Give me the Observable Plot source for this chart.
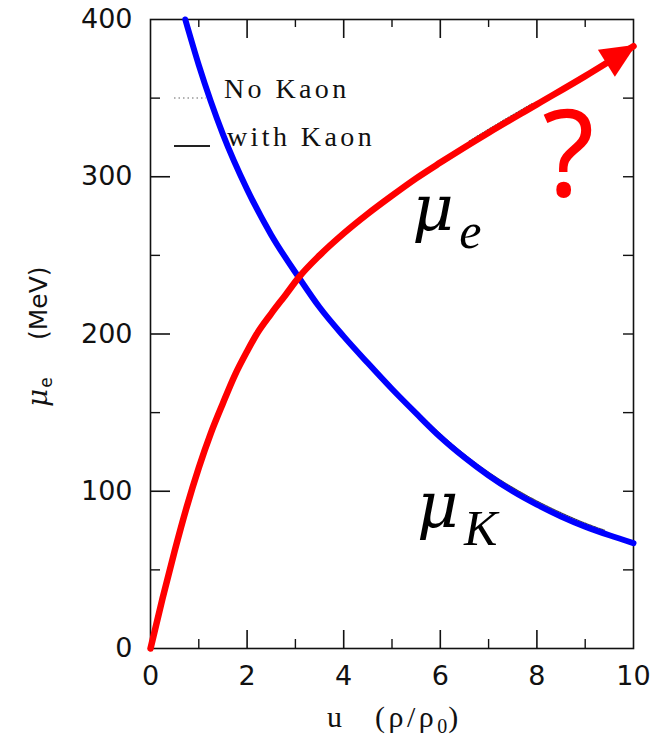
<!DOCTYPE html>
<html>
<head>
<meta charset="utf-8">
<script src="https://cdn.jsdelivr.net/npm/d3@7"></script>
<script src="https://cdn.jsdelivr.net/npm/@observablehq/plot@0.6"></script>
<style>
  html, body { margin: 0; padding: 0; background: #fff; }
</style>
</head>
<body>
<div id="chart"></div>
<script>
// Electron chemical potential μe (with kaons) against density u = ρ/ρ0
const densityE = [0, 0.25, 0.5, 0.75, 1.0, 1.25, 1.5, 1.75, 2.0, 2.2, 2.5, 2.8, 3.07, 3.5, 4.0, 4.5, 5.0, 5.5, 6.0, 7.0, 8.0, 9.0, 10];
const muE      = [0, 32, 62, 90, 115, 137, 156, 174, 189, 200, 213, 225, 236, 250, 264, 276.5, 288, 299, 309, 328, 346, 364, 383];

// Kaon chemical potential μK
const densityK = [0.72, 1.0, 1.5, 2.0, 2.5, 3.07, 3.5, 4.0, 4.5, 5.0, 5.5, 6.0, 6.5, 7.0, 7.5, 8.0, 8.5, 9.0, 9.5, 10];
const muK      = [400, 371, 327, 292, 263, 236, 217, 198.5, 181.5, 165, 149.5, 134.5, 121.5, 110, 100, 91.5, 84, 77.5, 72, 67];

// "No Kaon" curves, lying almost on top of the kaon-case curves
const noKaonDensityK = [5.6, 6.2, 6.9, 7.6, 8.3, 9.0, 9.4];
const noKaonMuK      = [148.2, 131, 114.2, 100.5, 89.2, 79.7, 75.2];
const noKaonDensityE = [6.6, 7.2, 7.9];
const noKaonMuE      = [322.7, 333.9, 346.5];

// Axis ticks
const xLabels = [0, 2, 4, 6, 8, 10];
const xMajor = [2, 4, 6, 8];
const xMinor = [1, 3, 5, 7, 9];
const yLabels = [0, 100, 200, 300, 400];
const yMajor = [100, 200, 300];
const yMinor = [50, 150, 250, 350];

// Legend entries
const legendNames = ["No Kaon", "with Kaon"];
const legendDash = ["1.5 3", null];

// Curve annotations: symbol, subscript, anchor point (u, MeV)
const noteBase = ["μ", "μ"];
const noteSub = ["e", "K"];
const noteU = [5.42, 5.52];
const noteMu = [266, 77];

const toRows = (xs, ys) => xs.map((u, i) => ({u, mu: ys[i]}));
const electron = toRows(densityE, muE);
const kaon = toRows(densityK, muK);
const noKaonK = toRows(noKaonDensityK, noKaonMuK);
const noKaonE = toRows(noKaonDensityE, noKaonMuE);
const notes = noteBase.map((b, i) => ({base: b, sub: noteSub[i], u: noteU[i], mu: noteMu[i]}));

const W = 664, H = 738;
const M = {top: 19, right: 31, bottom: 90, left: 150};
const frameW = W - M.left - M.right;
const frameH = H - M.top - M.bottom;

const tickFont = "DejaVu Sans";
const serif = "Liberation Serif";

// Legend: sample strokes and labels in the upper-left of the frame
function legend(index, scales, values, dims) {
  const g = d3.create("svg:g").attr("text-anchor", "start");
  const x0 = dims.marginLeft, y0 = dims.marginTop;
  legendNames.forEach((name, i) => {
    const base = y0 + 79 + i * 48;
    g.append("line")
      .attr("x1", x0 + 24).attr("x2", x0 + 56 + i * 4)
      .attr("y1", base).attr("y2", base)
      .attr("stroke", i === 0 ? "#666" : "#222")
      .attr("stroke-width", i === 0 ? 1.2 : 1.8)
      .attr("stroke-dasharray", legendDash[i]);
    g.append("text")
      .attr("x", x0 + 74 + i * 3).attr("y", base)
      .attr("font-family", serif)
      .attr("font-size", 28)
      .attr("letter-spacing", 3.4)
      .attr("fill", "#111")
      .text(name);
  });
  return g.node();
}

// Axis titles: u (ρ/ρ0) below, μe (MeV) rotated on the left
function axisTitles(index, scales, values, dims) {
  const g = d3.create("svg:g").attr("text-anchor", "start").attr("fill", "#111");
  const bottom = dims.height - dims.marginBottom;
  const left = dims.marginLeft;
  g.append("text")
    .attr("x", left + 177).attr("y", bottom + 79)
    .attr("font-family", serif).attr("font-size", 30)
    .text("u");
  const t = g.append("text")
    .attr("x", left + 225).attr("y", bottom + 79)
    .attr("font-family", serif).attr("font-size", 30)
    .attr("letter-spacing", 3.5);
  t.append("tspan").text("(ρ/ρ");
  t.append("tspan").attr("font-size", 20).attr("dy", 6).attr("letter-spacing", 1).text("0");
  t.append("tspan").attr("dy", -6).text(")");

  const yt = g.append("g")
    .attr("transform", `translate(${left - 103},${(dims.marginTop + bottom) / 2 + 73.5}) rotate(-90)`);
  const mu = yt.append("text").attr("x", 0).attr("y", 0);
  mu.append("tspan").attr("font-family", "DejaVu Serif").attr("font-style", "italic").attr("font-size", 28).text("μ");
  mu.append("tspan").attr("font-family", tickFont).attr("font-size", 17).attr("dx", 1).attr("dy", 5).text("e");
  yt.append("text").attr("x", 67).attr("y", 0)
    .attr("font-family", tickFont).attr("font-size", 25)
    .text("(MeV)");
  return g.node();
}

const chart = Plot.plot({
  width: W,
  height: H,
  marginTop: M.top,
  marginRight: M.right,
  marginBottom: M.bottom,
  marginLeft: M.left,
  x: {domain: [0, 10]},
  y: {domain: [0, 400]},
  style: {background: "white", fontFamily: tickFont, overflow: "visible"},
  marks: [
    // inward ticks on all four sides
    Plot.tickX(xMajor, {x: d => d, insetTop: frameH - 18, stroke: "#111", strokeWidth: 1.6}),
    Plot.tickX(xMinor, {x: d => d, insetTop: frameH - 9, stroke: "#111", strokeWidth: 1.4}),
    Plot.tickX(xMajor, {x: d => d, insetBottom: frameH - 19, stroke: "#111", strokeWidth: 1.6}),
    Plot.tickX(xMinor, {x: d => d, insetBottom: frameH - 8, stroke: "#111", strokeWidth: 1.4}),
    Plot.tickY(yMajor, {y: d => d, insetRight: frameW - 20, stroke: "#111", strokeWidth: 1.6}),
    Plot.tickY(yMinor, {y: d => d, insetRight: frameW - 10, stroke: "#111", strokeWidth: 1.4}),
    Plot.tickY(yMajor.concat(yMinor), {y: d => d, insetLeft: frameW - 10, stroke: "#111", strokeWidth: 1.4}),
    Plot.frame({stroke: "#111", strokeWidth: 1.6}),
    Plot.axisX({ticks: xLabels, tickSize: 0, tickPadding: 17, fontSize: 27, fontFamily: tickFont, label: null, fill: "#111"}),
    Plot.axisY({ticks: yLabels, tickSize: 0, tickPadding: 18, fontSize: 27, fontFamily: tickFont, label: null, fill: "#111"}),

    axisTitles,
    legend,

    // curves
    Plot.line(noKaonK, {x: "u", y: "mu", stroke: "#444", strokeWidth: 1.2, strokeDasharray: "1.5 1", curve: "monotone-x"}),
    Plot.line(noKaonE, {x: "u", y: "mu", stroke: "#444", strokeWidth: 1.1, strokeDasharray: "1.5 1.5", curve: "monotone-x"}),
    Plot.line(kaon, {x: "u", y: "mu", stroke: "#0000ff", strokeWidth: 6, curve: "monotone-x"}),
    Plot.line(electron, {x: "u", y: "mu", stroke: "#ff0000", strokeWidth: 6.5, curve: "monotone-x"}),

    // curve labels
    Plot.text(notes, {x: "u", y: "mu", text: "base", textAnchor: "start", lineAnchor: "bottom",
      fontFamily: "DejaVu Serif", fontStyle: "italic", fontSize: 64, fill: "black"}),
    Plot.text(notes, {x: "u", y: "mu", text: "sub", textAnchor: "start", lineAnchor: "bottom",
      dx: 47, dy: 18, fontFamily: serif, fontStyle: "italic", fontSize: 50, fill: "black"}),
    Plot.text(["?"], {x: () => 8.65, y: () => 288, text: d => d, textAnchor: "middle", lineAnchor: "bottom",
      fontFamily: "Noto Sans", fontSize: 120, fill: "#ff0000"})
  ]
});

// Filled arrowhead at the open end of the μe curve
const svg = d3.select(chart);
svg.append("defs").append("marker")
  .attr("id", "mu-e-head")
  .attr("markerUnits", "userSpaceOnUse")
  .attr("viewBox", "-36 -18 42 36")
  .attr("markerWidth", 42)
  .attr("markerHeight", 36)
  .attr("refX", 0)
  .attr("refY", 0)
  .attr("orient", "auto")
  .append("path")
  .attr("d", "M3,0 L-32,-16 L-32,16 Z")
  .attr("fill", "#ff0000");
svg.selectAll('g[aria-label="line"][stroke="#ff0000"] path').attr("marker-end", "url(#mu-e-head)");

document.getElementById("chart").append(chart);
</script>
</body>
</html>
